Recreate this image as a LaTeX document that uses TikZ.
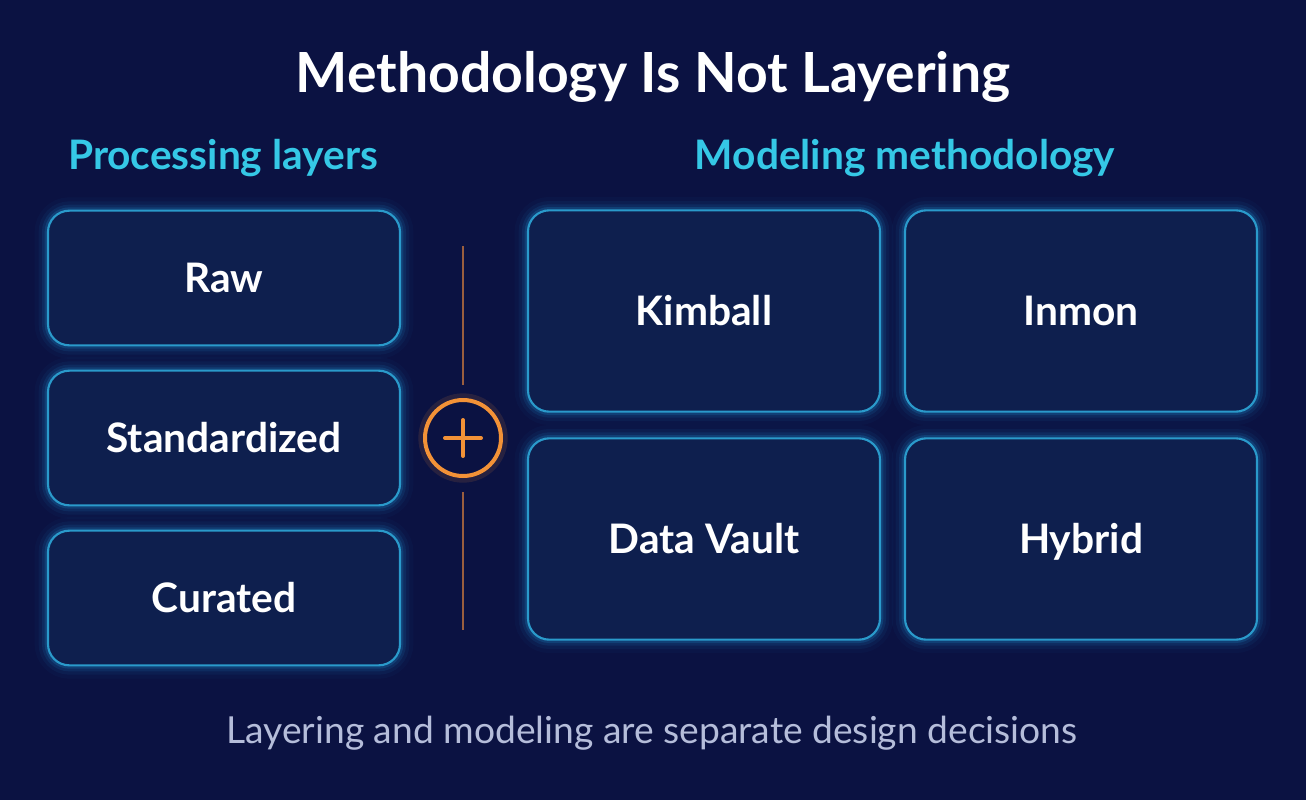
\documentclass[tikz,border=0pt]{standalone}
\usepackage{fontspec}
\setmainfont{Lato}
\usetikzlibrary{calc}
\definecolor{bgc}{HTML}{0B1242}
\definecolor{boxfill}{HTML}{0E1F4E}
\definecolor{edgec}{HTML}{2A9ACB}
\definecolor{glowc}{HTML}{1E8FD0}
\definecolor{headc}{HTML}{35C8E6}
\definecolor{orangec}{HTML}{F39237}
\definecolor{linec}{HTML}{9A5E3E}
\definecolor{footc}{HTML}{B5BDDA}
\tikzset{
  box/.style={rounded corners=16pt, fill=boxfill, draw=edgec, line width=1.6pt,
    minimum width=264pt, text=white, font=\fontsize{30.5}{34}\selectfont\bfseries,
    text height=22pt, text depth=0pt,
    preaction={draw=glowc, line width=20pt, draw opacity=0.04},
    preaction={draw=glowc, line width=14pt, draw opacity=0.07},
    preaction={draw=glowc, line width=9pt, draw opacity=0.12},
    preaction={draw=glowc, line width=5pt, draw opacity=0.2}},
  layerbox/.style={box, minimum height=101pt},
  methodbox/.style={box, minimum height=151pt},
  head/.style={text=headc, font=\fontsize{30.5}{34}\selectfont\bfseries},
  sepline/.style={linec, line width=1.6pt}
}

\begin{document}
\begin{tikzpicture}[x=0.75pt,y=-0.75pt]

\fill[bgc] (0,0) rectangle (1306,800);
\useasboundingbox (0,0) rectangle (1306,800);

% title and headers
\node (title) at (653,77) [text=white, font=\fontsize{41.5}{46}\selectfont\bfseries] {Methodology Is Not Layering};
\node (lhead) at (223,158) [head] {Processing layers};
\node (rhead) at (905,158) [head] {Modeling methodology};

% processing layers
\node (raw) at (224,278) [layerbox] {Raw};
\node (std) at (224,438) [layerbox] {Standardized};
\node (cur) at (224,598) [layerbox] {Curated};

% modeling methodology
\node (kim) at (704,311) [methodbox] {Kimball};
\node (inm) at (1081,311) [methodbox] {Inmon};
\node (dv) at (704,539) [methodbox] {Data Vault};
\node (hyb) at (1081,539) [methodbox] {Hybrid};

% plus sign between them
\coordinate (l1) at (463,246);
\coordinate (l2) at (463,385);
\coordinate (l3) at (463,492);
\coordinate (l4) at (463,630);
\draw[sepline] (l1) -- (l2);
\draw[sepline] (l3) -- (l4);
\node (plus) at (463,438) [circle, minimum size=57pt, fill=bgc, draw=orangec, line width=3pt,
  preaction={draw=orangec, line width=10pt, draw opacity=0.12}] {};
\draw[orangec, line width=3pt, line cap=round] ($(plus.center)+(-18,0)$) -- ($(plus.center)+(18,0)$);
\draw[orangec, line width=3pt, line cap=round] ($(plus.center)+(0,-18)$) -- ($(plus.center)+(0,18)$);

\node (foot) at (652,733) [text=footc, font=\fontsize{27.9}{32}\selectfont] {Layering and modeling are separate design decisions};

\end{tikzpicture}
\end{document}
